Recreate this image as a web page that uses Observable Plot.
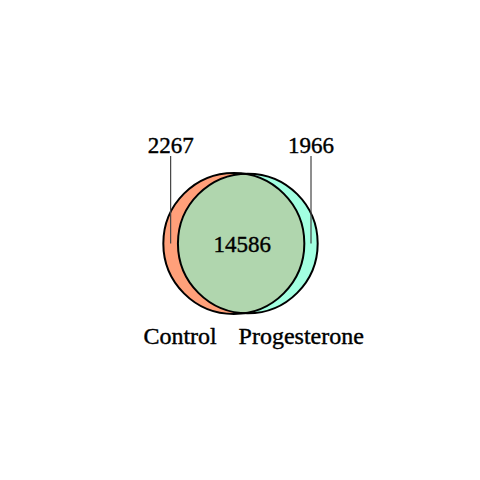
<!DOCTYPE html>
<html>
<head>
<meta charset="utf-8">
<script src="https://cdn.jsdelivr.net/npm/d3@7"></script>
<script src="https://cdn.jsdelivr.net/npm/@observablehq/plot@0.6"></script>
<style>
  body { margin: 0; background: #fff; }
</style>
</head>
<body>
<div id="chart_1"></div>
<script>
// venn counts
const sets = ["Control", "Progesterone"];
const onlyCounts = [2267, 1966];
const bothCount = 14586;

const colors = ["#FFA07A", "#A2FFE1"];
const overlapColor = "#B0D6AE";

// layout: area proportional circles, bounding box centred at (cx, cy)
const k = 0.9626;
const cx = 240, cy = 243;

const totals = onlyCounts.map(n => n + bothCount);
const r = totals.map(n => k * Math.sqrt(n / Math.PI));
const target = bothCount * k * k;

function lens(d, r1, r2) {
  const a = r1 * r1 * Math.acos((d * d + r1 * r1 - r2 * r2) / (2 * d * r1));
  const b = r2 * r2 * Math.acos((d * d + r2 * r2 - r1 * r1) / (2 * d * r2));
  const c = 0.5 * Math.sqrt((-d + r1 + r2) * (d + r1 - r2) * (d - r1 + r2) * (d + r1 + r2));
  return a + b - c;
}

let lo = Math.abs(r[0] - r[1]) + 1e-6, hi = r[0] + r[1] - 1e-6;
for (let i = 0; i < 60; i++) {
  const mid = (lo + hi) / 2;
  if (lens(mid, r[0], r[1]) > target) lo = mid; else hi = mid;
}
const d = (lo + hi) / 2;

const boxW = r[0] + d + r[1];
const x1 = cx - boxW / 2 + r[0];
const x2 = x1 + d;

const circles = [
  {name: sets[0], x: x1, y: cy, r: r[0]},
  {name: sets[1], x: x2, y: cy, r: r[1]}
];

const textY = cy - r[0] - 27;
const counts = [
  {text: String(onlyCounts[0]), x: ((x1 - r[0]) + (x2 - r[1])) / 2, y: textY, line: true},
  {text: String(onlyCounts[1]), x: ((x1 + r[0]) + (x2 + r[1])) / 2, y: textY, line: true},
  {text: String(bothCount), x: ((x2 - r[1]) + (x1 + r[0])) / 2 + 1, y: cy + 1, line: false}
];

const ang = 30 * Math.PI / 180;
const names = circles.map((c, i) => ({
  text: c.name,
  x: c.x + (i == 0 ? -1 : 1) * Math.sin(ang) * (c.r + 37),
  y: c.y + Math.cos(ang) * (c.r + 37)
}));

const font = "Liberation Serif, Times New Roman, serif";

let chart = Plot.plot({
  width: 480,
  height: 480,
  margin: 0,
  style: {background: "#fff"},
  x: {domain: [0, 480], range: [0, 480], axis: null},
  y: {domain: [0, 480], range: [0, 480], axis: null},
  marks: [
    Plot.dot([circles[0]], {x: "x", y: "y", r: circles[0].r, fill: colors[0], fillOpacity: 1}),
    Plot.dot([circles[1]], {x: "x", y: "y", r: circles[1].r, fill: colors[1], fillOpacity: 1}),
    Plot.dot([circles[0]], {x: "x", y: "y", r: circles[0].r, fill: overlapColor, fillOpacity: 1}),
    Plot.dot([circles[0]], {x: "x", y: "y", r: circles[0].r, stroke: "black", strokeWidth: 2}),
    Plot.dot([circles[1]], {x: "x", y: "y", r: circles[1].r, stroke: "black", strokeWidth: 2}),
    Plot.link(counts.filter(c => c.line), {
      x1: "x", x2: "x",
      y1: c => c.y + 10, y2: () => cy,
      stroke: "#444", strokeWidth: 1.2
    }),
    Plot.text(counts, {
      x: "x", y: "y", text: "text",
      fontSize: 23, fontFamily: font, fill: "black",
      stroke: "black", strokeWidth: 0.4
    }),
    Plot.text(names, {
      x: "x", y: "y", text: "text",
      fontSize: 24, fontFamily: font, fill: "black",
      stroke: "black", strokeWidth: 0.4
    })
  ]
});

// clip the overlap fill (3rd dot layer) to the second circle (2nd dot layer)
const svg = d3.select(chart);
const dotLayers = svg.selectAll('g[aria-label="dot"]').nodes();
const src = d3.select(dotLayers[1]).select("circle, path").node();
if (src) {
  const id = "clip-prog";
  const clip = svg.append("defs").append("clipPath").attr("id", id);
  clip.node().appendChild(src.cloneNode());
  const tr = dotLayers[1].getAttribute("transform");
  if (tr) clip.attr("transform", tr);
  d3.select(dotLayers[2]).select("circle, path").attr("clip-path", `url(#${id})`);
}

d3.select('#chart_1').append(() => chart);
</script>
</body>
</html>
